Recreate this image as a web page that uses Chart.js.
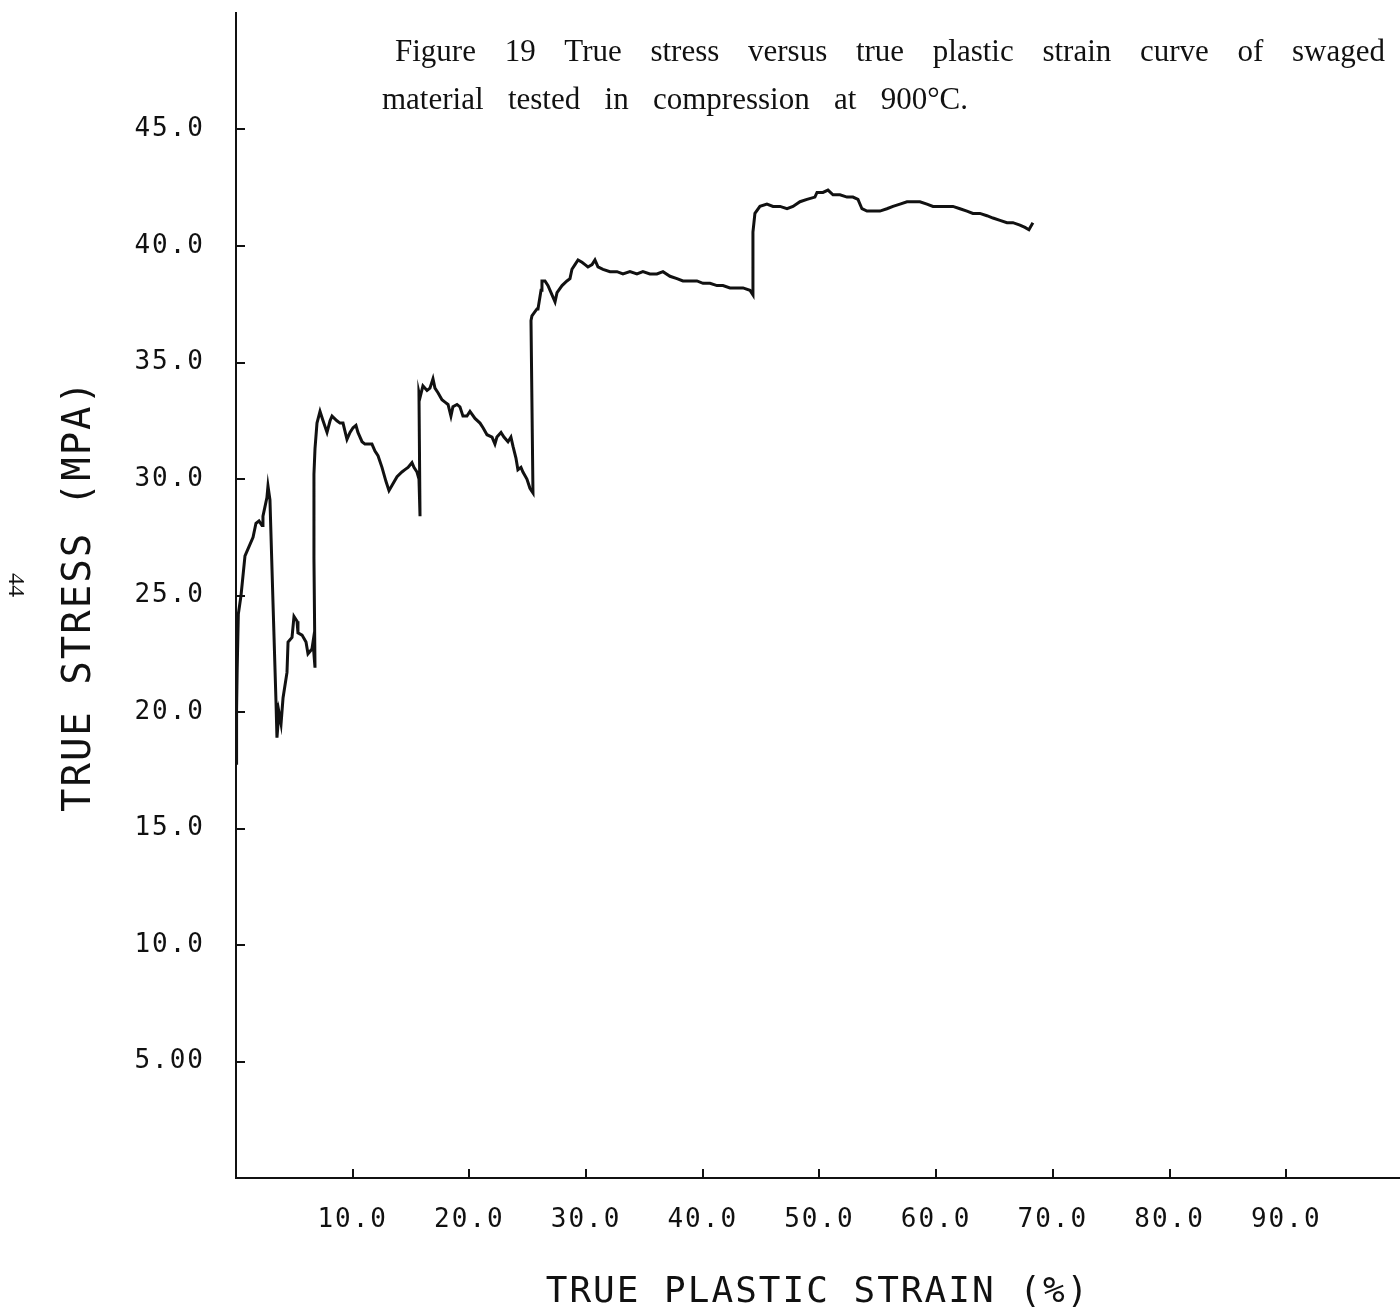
<!DOCTYPE html>
<html>
<head>
<meta charset="utf-8">
<title>True stress vs true plastic strain</title>
<script src="https://cdn.jsdelivr.net/npm/chart.js@4.4.1/dist/chart.umd.min.js"></script>
<style>
  html, body { margin: 0; padding: 0; background: #fff; }
  canvas { display: block; }
</style>
</head>
<body>
<canvas id="stressChart" width="1400" height="1315"></canvas>
<script>
// Compression test of swaged material at 900 C (strain in %, stress in MPa)
const strainPct = [
  0.0, 0.05, 0.1, 0.2, 0.43, 0.77, 1.03, 1.46, 1.71, 1.97, 2.23, 2.31, 2.65, 2.74, 2.91,
  3.17, 3.43, 3.51, 3.68, 3.86, 4.03, 4.37, 4.46, 4.80, 4.97, 5.23, 5.31, 5.66, 6.00, 6.17,
  6.51, 6.60, 6.77, 6.68, 6.68, 6.77, 6.94, 7.20, 7.46, 7.80, 8.06, 8.23, 8.65, 8.91, 9.17,
  9.51, 9.77, 10.03, 10.28, 10.45, 10.80, 11.05, 11.31, 11.65, 11.91, 12.17, 12.51, 12.85, 13.11, 13.45,
  13.80, 14.22, 14.48, 14.74, 15.08, 15.25, 15.51, 15.68, 15.77, 15.68, 15.77, 16.02, 16.37, 16.62, 16.88,
  17.05, 17.31, 17.65, 17.91, 18.17, 18.42, 18.59, 18.94, 19.19, 19.45, 19.79, 20.05, 20.48, 20.91, 21.17,
  21.51, 21.94, 22.19, 22.36, 22.71, 22.96, 23.31, 23.56, 23.74, 23.99, 24.16, 24.42, 24.59, 24.93, 25.19,
  25.45, 25.28, 25.36, 25.79, 25.88, 26.14, 26.22, 26.48, 26.74, 27.08, 27.34, 27.51, 27.94, 28.36, 28.62,
  28.79, 29.05, 29.31, 29.65, 29.91, 30.16, 30.51, 30.76, 31.02, 31.45, 32.05, 32.65, 33.16, 33.76, 34.36,
  34.87, 35.47, 36.07, 36.59, 37.19, 37.79, 38.30, 38.90, 39.50, 40.02, 40.62, 41.22, 41.73, 42.33, 42.93,
  43.45, 44.04, 44.30, 44.30, 44.47, 44.90, 45.50, 46.02, 46.62, 47.22, 47.73, 48.33, 48.93, 49.61, 49.79,
  50.30, 50.73, 51.16, 51.76, 52.36, 52.87, 53.30, 53.64, 54.07, 54.58, 55.18, 55.78, 56.30, 56.90, 57.50,
  58.01, 58.61, 59.21, 59.73, 60.33, 60.93, 61.44, 62.04, 62.64, 63.15, 63.75, 64.35, 64.87, 65.47, 66.07,
  66.58, 67.18, 67.61, 67.95, 68.29
];
const stressMPa = [
  17.8, 20.1, 21.8, 24.2, 25.0, 26.7, 27.0, 27.5, 28.1, 28.2, 28.0, 28.4, 29.2, 29.7, 29.1,
  24.7, 20.4, 18.9, 20.0, 19.5, 20.6, 21.7, 23.0, 23.2, 24.1, 23.9, 23.4, 23.3, 23.0, 22.5,
  22.7, 23.0, 21.9, 26.6, 30.2, 31.3, 32.4, 32.9, 32.5, 32.0, 32.5, 32.7, 32.5, 32.4, 32.4,
  31.7, 32.0, 32.2, 32.3, 32.0, 31.6, 31.5, 31.5, 31.5, 31.2, 31.0, 30.5, 29.9, 29.5, 29.8,
  30.1, 30.3, 30.4, 30.5, 30.7, 30.5, 30.3, 30.0, 28.4, 33.7, 33.5, 34.0, 33.8, 33.9, 34.3,
  33.9, 33.7, 33.4, 33.3, 33.2, 32.7, 33.1, 33.2, 33.1, 32.7, 32.7, 32.9, 32.6, 32.4, 32.2,
  31.9, 31.8, 31.5, 31.8, 32.0, 31.8, 31.6, 31.8, 31.4, 30.9, 30.4, 30.5, 30.3, 30.0, 29.6,
  29.4, 36.8, 37.0, 37.3, 37.3, 38.1, 38.5, 38.5, 38.3, 37.9, 37.6, 38.0, 38.3, 38.5, 38.6,
  39.0, 39.2, 39.4, 39.3, 39.2, 39.1, 39.2, 39.4, 39.1, 39.0, 38.9, 38.9, 38.8, 38.9, 38.8,
  38.9, 38.8, 38.8, 38.9, 38.7, 38.6, 38.5, 38.5, 38.5, 38.4, 38.4, 38.3, 38.3, 38.2, 38.2,
  38.2, 38.1, 37.9, 40.6, 41.4, 41.7, 41.8, 41.7, 41.7, 41.6, 41.7, 41.9, 42.0, 42.1, 42.3,
  42.3, 42.4, 42.2, 42.2, 42.1, 42.1, 42.0, 41.6, 41.5, 41.5, 41.5, 41.6, 41.7, 41.8, 41.9,
  41.9, 41.9, 41.8, 41.7, 41.7, 41.7, 41.7, 41.6, 41.5, 41.4, 41.4, 41.3, 41.2, 41.1, 41.0,
  41.0, 40.9, 40.8, 40.7, 41.0
];

const xTickValues = [10, 20, 30, 40, 50, 60, 70, 80, 90];
const xTickLabels = ['10.0', '20.0', '30.0', '40.0', '50.0', '60.0', '70.0', '80.0', '90.0'];
const yTickValues = [5, 10, 15, 20, 25, 30, 35, 40, 45];
const yTickLabels = ['5.00', '10.0', '15.0', '20.0', '25.0', '30.0', '35.0', '40.0', '45.0'];
const xMax = 99.75;
const yMax = 50;

const captionLines = [
  'Figure 19 True stress versus true plastic strain curve of swaged',
  'material tested in compression at 900°C.'
];
const pageNumber = '44';

const ink = '#111';
const plotterFont = '"DejaVu Sans Mono", "Liberation Mono", monospace';

// plotter lettering is a bit wider than the mono font
const plotterSpacing = {
  id: 'plotterSpacing',
  beforeDraw(chart) { chart.ctx.letterSpacing = '2px'; },
  afterDraw(chart) { chart.ctx.letterSpacing = '0px'; }
};

// tick marks point into the plot, plus the caption and page number
const pageExtras = {
  id: 'pageExtras',
  afterDraw(chart) {
    const { ctx, chartArea, scales: { x, y } } = chart;
    ctx.save();
    ctx.letterSpacing = '0px';
    ctx.strokeStyle = ink;
    ctx.lineWidth = 2;
    ctx.beginPath();
    xTickValues.forEach(v => {
      const px = Math.round(x.getPixelForValue(v));
      ctx.moveTo(px, chartArea.bottom);
      ctx.lineTo(px, chartArea.bottom - 9);
    });
    yTickValues.forEach(v => {
      const py = Math.round(y.getPixelForValue(v));
      ctx.moveTo(chartArea.left, py);
      ctx.lineTo(chartArea.left + 9, py);
    });
    ctx.stroke();

    // caption, justified like the typed original
    ctx.fillStyle = ink;
    ctx.font = '31px "Liberation Serif", "Times New Roman", serif';
    ctx.textBaseline = 'alphabetic';
    ctx.textAlign = 'left';
    const spans = [[395, 1385, 61], [382, 968, 109]];
    captionLines.forEach((line, i) => {
      const [x0, x1, base] = spans[i];
      const words = line.split(' ');
      const widths = words.map(w => ctx.measureText(w).width);
      const total = widths.reduce((a, b) => a + b, 0);
      const gap = (x1 - x0 - total) / (words.length - 1);
      let cx = x0;
      words.forEach((w, j) => {
        ctx.fillText(w, cx, base);
        cx += widths[j] + gap;
      });
    });

    // page number, sideways at the left margin
    ctx.translate(15, 585);
    ctx.rotate(Math.PI / 2);
    ctx.font = '24px "Liberation Serif", serif';
    ctx.textAlign = 'center';
    ctx.textBaseline = 'middle';
    ctx.fillText(pageNumber, 0, 0);
    ctx.restore();
  }
};

const ctx = document.getElementById('stressChart').getContext('2d');
new Chart(ctx, {
  type: 'line',
  data: {
    datasets: [{
      label: 'True stress',
      data: strainPct.map((s, i) => ({ x: s, y: stressMPa[i] })),
      borderColor: ink,
      borderWidth: 3,
      pointRadius: 0,
      tension: 0,
      fill: false
    }]
  },
  options: {
    responsive: false,
    animation: false,
    layout: { padding: { top: 13, left: 0, right: 0, bottom: 0 } },
    plugins: {
      legend: { display: false },
      tooltip: { enabled: false }
    },
    scales: {
      x: {
        type: 'linear',
        min: 0,
        max: xMax,
        afterBuildTicks: scale => { scale.ticks = xTickValues.map(v => ({ value: v })); },
        afterFit: scale => {
          scale.height = 137;
          scale.paddingLeft = 0;
          scale.paddingRight = 0;
        },
        grid: { display: false, drawTicks: false },
        border: { display: true, color: ink, width: 2 },
        ticks: {
          color: ink,
          padding: 27,
          maxRotation: 0,
          font: { family: plotterFont, size: 26 },
          callback: (value, index) => xTickLabels[index]
        },
        title: {
          display: true,
          text: 'TRUE PLASTIC STRAIN (%)',
          color: ink,
          font: { family: plotterFont, size: 36 },
          padding: { top: 0, bottom: 1 }
        }
      },
      y: {
        type: 'linear',
        min: 0,
        max: yMax,
        afterBuildTicks: scale => { scale.ticks = yTickValues.map(v => ({ value: v })); },
        afterFit: scale => {
          scale.width = 236;
          scale.paddingTop = 0;
          scale.paddingBottom = 0;
        },
        grid: { display: false, drawTicks: false },
        border: { display: true, color: ink, width: 2 },
        ticks: {
          color: ink,
          padding: 31,
          font: { family: plotterFont, size: 26 },
          callback: (value, index) => yTickLabels[index]
        },
        title: {
          display: true,
          text: 'TRUE STRESS (MPA)',
          color: ink,
          font: { family: plotterFont, size: 39 },
          padding: { top: 56, bottom: 0 }
        }
      }
    }
  },
  plugins: [plotterSpacing, pageExtras]
});
</script>
</body>
</html>
